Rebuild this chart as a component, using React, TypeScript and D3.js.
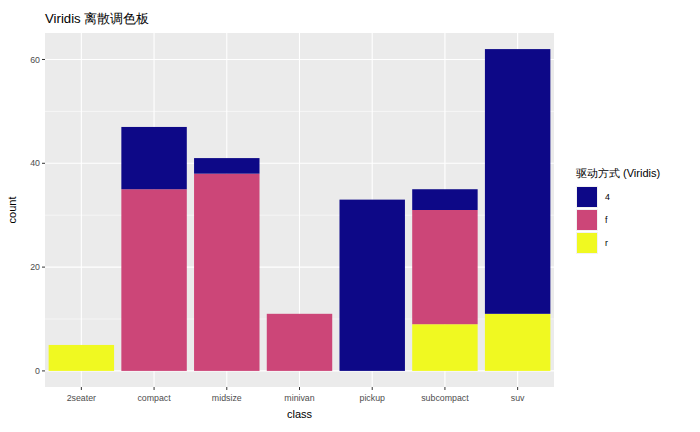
import React from "react";
import * as d3 from "d3";

const categories = ["2seater","compact","midsize","minivan","pickup","subcompact","suv"];
const drvKeys = ["4","f","r"];
const v4 = [0,12,3,0,33,4,51];
const vf = [0,35,38,11,0,22,0];
const vr = [5,0,0,0,0,9,11];
const colors: Record<string,string> = { "4": "#0D0887", f: "#CC4678", r: "#F0F921" };
const yTicks = [0,20,40,60];

export default function App() {
  const W = 700, H = 432;
  const L = 45, R = 554, T = 33, B = 387;
  const x = d3.scaleBand().domain(categories).range([L, R]).paddingInner(0.1).paddingOuter(0.05);
  const y = d3.scaleLinear().domain([-3.1, 65.1]).range([B, T]);
  const rows = categories.map((c, i) => ({ c, "4": v4[i], f: vf[i], r: vr[i] }));
  const stack = d3.stack<any>().keys(["r","f","4"])(rows);
  const step = x.step();
  const font = "Liberation Sans, Arial, sans-serif";
  const minor = yTicks.slice(0, -1).map(t => t + 10).concat([70]).filter(t => y(t) > T);
  return (
    <svg width={W} height={H} style={{ position: "absolute", left: 0, top: 0, fontFamily: font }}>
      <rect width={W} height={H} fill="white" />
      <rect x={L} y={T} width={R - L} height={B - T} fill="#EBEBEB" />
      {minor.map(t => <line key={"m"+t} x1={L} x2={R} y1={y(t)} y2={y(t)} stroke="white" strokeWidth={0.55} />)}
      {yTicks.map(t => <line key={t} x1={L} x2={R} y1={y(t)} y2={y(t)} stroke="white" strokeWidth={1.1} />)}
      {categories.map(c => <line key={c} x1={x(c)! + x.bandwidth()/2} x2={x(c)! + x.bandwidth()/2} y1={T} y2={B} stroke="white" strokeWidth={1.1} />)}
      {stack.map(s => s.map((d, i) => d[1] - d[0] > 0 ? (
        <rect key={s.key + i} x={x(categories[i])} width={x.bandwidth()} y={y(d[1])} height={y(d[0]) - y(d[1])} fill={colors[s.key]} />
      ) : null))}
      {yTicks.map(t => (
        <g key={"yt"+t}>
          <line x1={L - 3} x2={L} y1={y(t)} y2={y(t)} stroke="#333" />
          <text x={L - 5} y={y(t)} dy="0.35em" textAnchor="end" fontSize={8.8} fill="#4D4D4D">{t}</text>
        </g>
      ))}
      {categories.map(c => (
        <g key={"xt"+c}>
          <line x1={x(c)! + x.bandwidth()/2} x2={x(c)! + x.bandwidth()/2} y1={B} y2={B + 3} stroke="#333" />
          <text x={x(c)! + x.bandwidth()/2} y={B + 14} textAnchor="middle" fontSize={8.8} fill="#4D4D4D">{c}</text>
        </g>
      ))}
      <text x={(L + R)/2} y={B + 31} textAnchor="middle" fontSize={11}>class</text>
      <text transform={`translate(16,${(T+B)/2}) rotate(-90)`} textAnchor="middle" fontSize={11}>count</text>
      <text x={L} y={23} fontSize={13.2}>Viridis 离散调色板</text>
      <text x={576} y={177} fontSize={11}>驱动方式 (Viridis)</text>
      {drvKeys.map((k, i) => (
        <g key={"lg"+k}>
          <rect x={576} y={186 + i*23} width={22} height={22} fill="#F2F2F2" />
          <rect x={577} y={187 + i*23} width={20} height={20} fill={colors[k]} />
          <text x={605} y={197 + i*23} dy="0.35em" fontSize={8.8}>{k}</text>
        </g>
      ))}
    </svg>
  );
}
